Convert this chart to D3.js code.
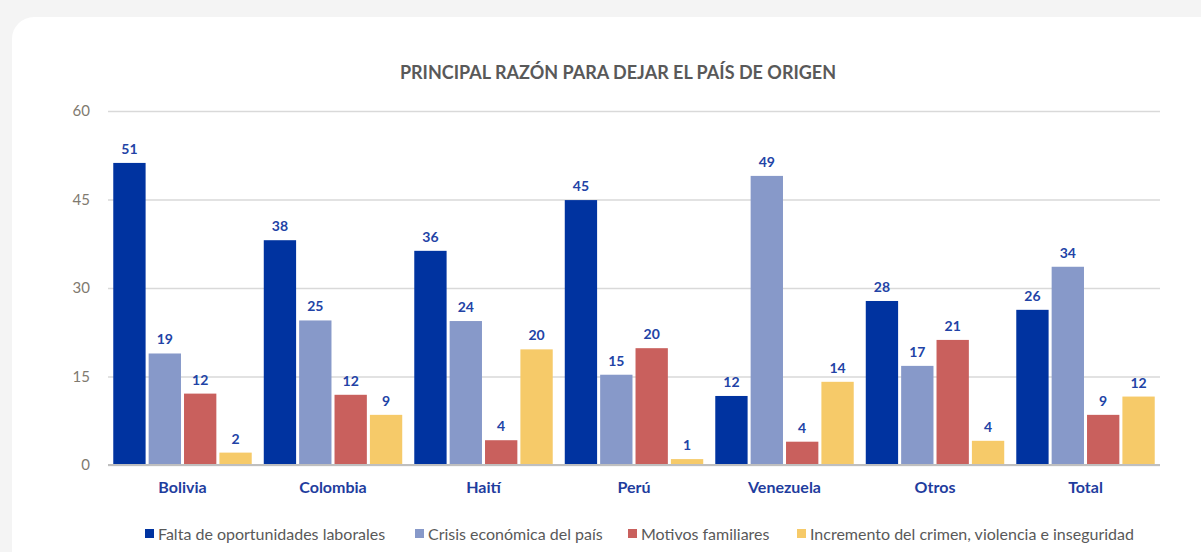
<!DOCTYPE html>
<html>
<head>
<meta charset="utf-8">
<script src="https://cdn.jsdelivr.net/npm/d3@7"></script>
<style>
  body { margin: 0; background: #f4f4f4; }
  svg { display: block; font-family: Lato, "Open Sans", sans-serif; }
</style>
</head>
<body>
<svg id="chart" width="1201" height="552"></svg>
<script>
const categories = ["Bolivia", "Colombia", "Haití", "Perú", "Venezuela", "Otros", "Total"]
const seriesNames = ["Falta de oportunidades laborales", "Crisis económica del país", "Motivos familiares", "Incremento del crimen, violencia e inseguridad"]
const falta = [51.2, 38.1, 36.3, 44.9, 11.7, 27.8, 26.3]
const crisis = [18.9, 24.5, 24.4, 15.3, 49.0, 16.8, 33.6]
const motivos = [12.1, 11.9, 4.2, 19.8, 3.95, 21.2, 8.5]
const crimen = [2.1, 8.5, 19.6, 1.0, 14.1, 4.1, 11.6]
const yTicks = [0, 15, 30, 45, 60]

const colors = ["#0033a0", "#8799c9", "#c9605d", "#f6ca69"]
const seriesValues = [falta, crisis, motivos, crimen]

const svg = d3.select("#chart")

// white card
svg.append("rect")
    .attr("x", 12).attr("y", 17)
    .attr("width", 1240).attr("height", 600)
    .attr("rx", 22)
    .attr("fill", "#fff")

svg.append("text")
    .attr("x", 618).attr("y", 79)
    .attr("text-anchor", "middle")
    .style("font-size", "18px")
    .style("font-weight", "bold")
    .style("fill", "#595959")
    .text("PRINCIPAL RAZÓN PARA DEJAR EL PAÍS DE ORIGEN")

const y = d3.scaleLinear().domain([0, 60]).range([465, 111])
const x0 = d3.scaleBand().domain(categories).range([108, 1160]).paddingInner(0.08).paddingOuter(0.035)
const x1 = d3.scaleBand().domain(d3.range(4)).range([0, x0.bandwidth()]).paddingInner(0.086)

// gridlines
const yAxis = svg.append("g")
    .attr("transform", "translate(108,0)")
    .call(d3.axisLeft(y).tickValues(yTicks).tickSize(-1052).tickPadding(18))
yAxis.select(".domain").remove()
yAxis.selectAll(".tick line")
    .attr("stroke", "#d9d9d9")
    .attr("stroke-width", 1.6)
yAxis.selectAll(".tick text")
    .style("font-size", "15px")
    .style("fill", "#7f7a70")
    .style("font-family", "Lato, sans-serif")

const rows = categories.map((c, i) => ({ cat: c, vals: seriesValues.map(s => s[i]) }))

const groups = svg.append("g").selectAll("g")
    .data(rows)
    .join("g")
    .attr("transform", d => `translate(${x0(d.cat)},0)`)

groups.selectAll("rect")
    .data(d => d.vals)
    .join("rect")
    .attr("x", (d, i) => x1(i))
    .attr("y", d => y(d))
    .attr("width", x1.bandwidth())
    .attr("height", d => y(0) - y(d))
    .attr("fill", (d, i) => colors[i])

groups.selectAll("text")
    .data(d => d.vals)
    .join("text")
    .attr("x", (d, i) => x1(i) + x1.bandwidth() / 2)
    .attr("y", d => y(d) - 9)
    .attr("text-anchor", "middle")
    .style("font-size", "14px")
    .style("font-weight", "bold")
    .style("fill", "#2243a6")
    .text(d => Math.round(d))

// baseline
svg.append("line")
    .attr("x1", 108).attr("x2", 1160)
    .attr("y1", y(0)).attr("y2", y(0))
    .attr("stroke", "#bfbfbf")
    .attr("stroke-width", 2)

// category labels
const xAxis = svg.append("g")
    .attr("transform", `translate(0,${y(0)})`)
    .call(d3.axisBottom(x0).tickSize(0).tickPadding(17))
xAxis.select(".domain").remove()
xAxis.selectAll(".tick text")
    .style("font-size", "16px")
    .style("font-weight", "bold")
    .style("fill", "#1f3d9e")
    .style("font-family", "Lato, sans-serif")

// legend
const legendX = [145, 415, 628, 797]
const legend = svg.append("g").selectAll("g")
    .data(seriesNames)
    .join("g")
    .attr("transform", (d, i) => `translate(${legendX[i]},534)`)
legend.append("rect")
    .attr("x", 0).attr("y", -5)
    .attr("width", 9).attr("height", 9)
    .attr("fill", (d, i) => colors[i])
legend.append("text")
    .attr("x", 13).attr("y", 5.5)
    .style("font-size", "16px")
    .style("fill", "#595959")
    .text(d => d)
</script>
</body>
</html>
